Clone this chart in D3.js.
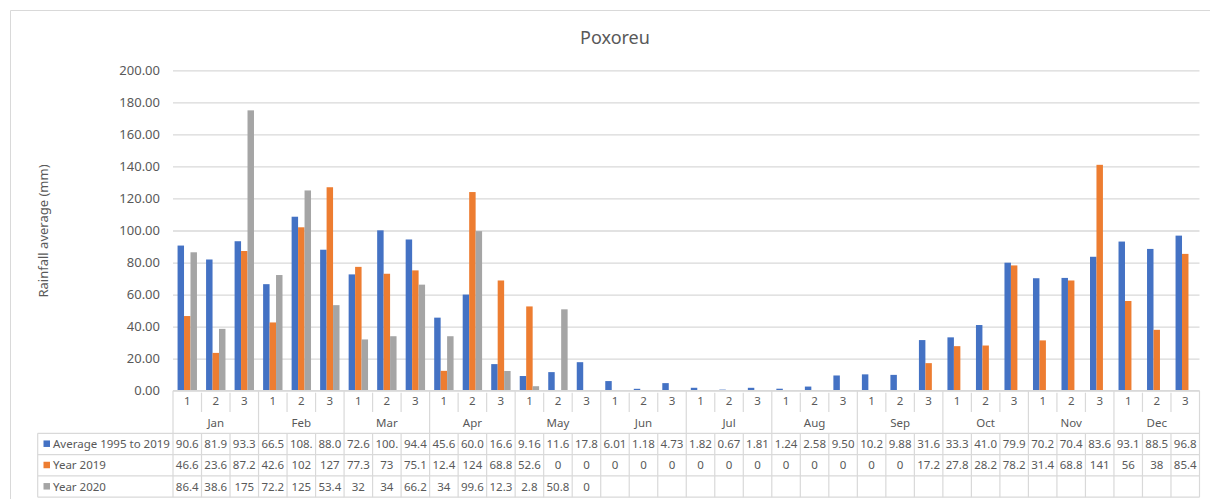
<!DOCTYPE html>
<html>
<head>
<meta charset="utf-8">
<script src="https://cdn.jsdelivr.net/npm/d3@7"></script>
<style>
    body { margin: 0; background: #fff; }
</style>
</head>
<body>
<rainfall-chart></rainfall-chart>
<script>
const months = ["Jan", "Feb", "Mar", "Apr", "May", "Jun", "Jul", "Aug", "Sep", "Oct", "Nov", "Dec"];
const dekads = ["1", "2", "3"];
const seriesNames = ["Average 1995 to 2019", "Year 2019", "Year 2020"];
const yTicks = [0, 20, 40, 60, 80, 100, 120, 140, 160, 180, 200];

const average = [90.6, 81.9, 93.3, 66.5, 108.6, 88.0, 72.6, 100.1, 94.4, 45.6, 60.0, 16.6,
    9.16, 11.6, 17.8, 6.01, 1.18, 4.73, 1.82, 0.67, 1.81, 1.24, 2.58, 9.50,
    10.2, 9.88, 31.6, 33.3, 41.0, 79.9, 70.2, 70.4, 83.6, 93.1, 88.5, 96.8];
const year2019 = [46.6, 23.6, 87.2, 42.6, 102, 127, 77.3, 73, 75.1, 12.4, 124, 68.8,
    52.6, 0, 0, 0, 0, 0, 0, 0, 0, 0, 0, 0,
    0, 0, 17.2, 27.8, 28.2, 78.2, 31.4, 68.8, 141, 56, 38, 85.4];
const year2020 = [86.4, 38.6, 175, 72.2, 125, 53.4, 32, 34, 66.2, 34, 99.6, 12.3,
    2.8, 50.8, 0, null, null, null, null, null, null, null, null, null,
    null, null, null, null, null, null, null, null, null, null, null, null];

const colors = ["#4472C4", "#ED7D31", "#A5A5A5"];

class RainfallChart extends HTMLElement {

    constructor() {
        super();
        this.attachShadow({ mode: "open" });
        this.render();
        this.d3_logic();
    }

    d3_logic() {
        const W = 1210, H = 499;
        const left = 173, right = 1199.5, top = 70.3, bottom = 390.7;
        const rowH = 21.3;
        const tableLeft = 37.7;
        const textCol = "#595959";
        const lineCol = "#d9d9d9";

        let svg = d3.select(this.shadowRoot).select("svg")
            .attr("width", W)
            .attr("height", H)
            .style("font-family", "'Noto Sans', sans-serif");

        const series = [average, year2019, year2020];
        const cats = d3.range(months.length * dekads.length);

        let x0 = d3.scaleBand().domain(cats).range([left, right])
            .paddingInner(0.32).paddingOuter(0.16);
        let x1 = d3.scaleBand().domain([0, 1, 2]).range([0, x0.bandwidth()]);
        let y = d3.scaleLinear().domain([0, 200]).range([bottom, top]);
        const step = x0.step();
        const colX = i => left + i * step;

        // chart frame
        svg.append("path")
            .attr("d", `M10.5,${H}V10.5H${W}`)
            .attr("fill", "none")
            .attr("stroke", lineCol);

        // title
        svg.append("text")
            .attr("x", 615).attr("y", 44)
            .attr("text-anchor", "middle")
            .style("font-size", "18px")
            .attr("fill", textCol)
            .text("Poxoreu");

        // y axis title
        svg.append("text")
            .attr("transform", "translate(48, 231) rotate(-90)")
            .attr("text-anchor", "middle")
            .style("font-size", "13px")
            .attr("fill", textCol)
            .text("Rainfall average (mm)");

        // gridlines + tick labels
        let yAxis = svg.append("g")
            .attr("transform", `translate(${left},0)`)
            .call(d3.axisLeft(y).tickValues(yTicks).tickFormat(d3.format(".2f"))
                .tickSize(-(right - left)).tickPadding(13));
        yAxis.select(".domain").remove();
        yAxis.selectAll("line").attr("stroke", lineCol).attr("stroke-width", 1.3);
        yAxis.selectAll("text")
            .attr("fill", textCol)
            .style("font-size", "13px")
            .style("font-family", "'Noto Sans', sans-serif");

        // bars
        series.forEach((vals, s) => {
            svg.append("g")
                .selectAll("rect")
                .data(cats.filter(i => vals[i] != null))
                .join("rect")
                .attr("x", i => x0(i) + x1(s))
                .attr("y", i => y(vals[i]))
                .attr("width", x1.bandwidth())
                .attr("height", i => y(0) - y(vals[i]))
                .attr("fill", colors[s]);
        });

        // data table
        let tbl = svg.append("g")
            .attr("stroke", lineCol)
            .attr("stroke-width", 1.2);

        const rowsTop = bottom + 2 * rowH;
        const tableBottom = rowsTop + 3 * rowH;

        tbl.append("line")
            .attr("x1", left).attr("x2", right)
            .attr("y1", bottom).attr("y2", bottom);
        [0, 1, 2, 3].forEach(r => {
            tbl.append("line")
                .attr("x1", tableLeft).attr("x2", right)
                .attr("y1", rowsTop + r * rowH).attr("y2", rowsTop + r * rowH);
        });
        tbl.append("line")
            .attr("x1", tableLeft).attr("x2", tableLeft)
            .attr("y1", rowsTop).attr("y2", tableBottom);

        d3.range(cats.length + 1).forEach(i => {
            let monthEdge = i % 3 == 0;
            tbl.append("line")
                .attr("x1", colX(i)).attr("x2", colX(i))
                .attr("y1", bottom + (monthEdge ? 0 : 2))
                .attr("y2", monthEdge ? tableBottom : bottom + rowH);
            if (!monthEdge) {
                tbl.append("line")
                    .attr("x1", colX(i)).attr("x2", colX(i))
                    .attr("y1", rowsTop).attr("y2", tableBottom);
            }
        });

        let txt = svg.append("g")
            .attr("fill", textCol)
            .style("font-size", "11.5px")
            .attr("text-anchor", "middle");

        cats.forEach(i => {
            txt.append("text")
                .attr("x", colX(i) + step / 2)
                .attr("y", bottom + rowH / 2 + 4)
                .text(dekads[i % 3]);
        });
        months.forEach((m, k) => {
            txt.append("text")
                .attr("x", colX(k * 3) + step * 1.5)
                .attr("y", bottom + rowH * 1.5 + 4)
                .text(m);
        });

        const fmtAvg = v => d3.format(".2f")(v).slice(0, 4);
        const fmtYear = v => v == null ? "" : String(v);

        series.forEach((vals, s) => {
            let cy = rowsTop + s * rowH + rowH / 2;
            svg.append("rect")
                .attr("x", 43.5).attr("y", cy - 3.5)
                .attr("width", 6.5).attr("height", 6.5)
                .attr("fill", colors[s]);
            svg.append("text")
                .attr("x", 53).attr("y", cy + 4)
                .attr("fill", textCol)
                .style("font-size", "11.5px")
                .text(seriesNames[s]);
            cats.forEach(i => {
                txt.append("text")
                    .attr("x", colX(i) + step / 2)
                    .attr("y", cy + 4)
                    .text(s == 0 ? fmtAvg(vals[i]) : fmtYear(vals[i]));
            });
        });
    }

    render() {
        this.shadowRoot.innerHTML = `
            <style>
                svg { display: block; }
            </style>
            <svg></svg>
        `;
    }

}

customElements.define("rainfall-chart", RainfallChart);
</script>
</body>
</html>
